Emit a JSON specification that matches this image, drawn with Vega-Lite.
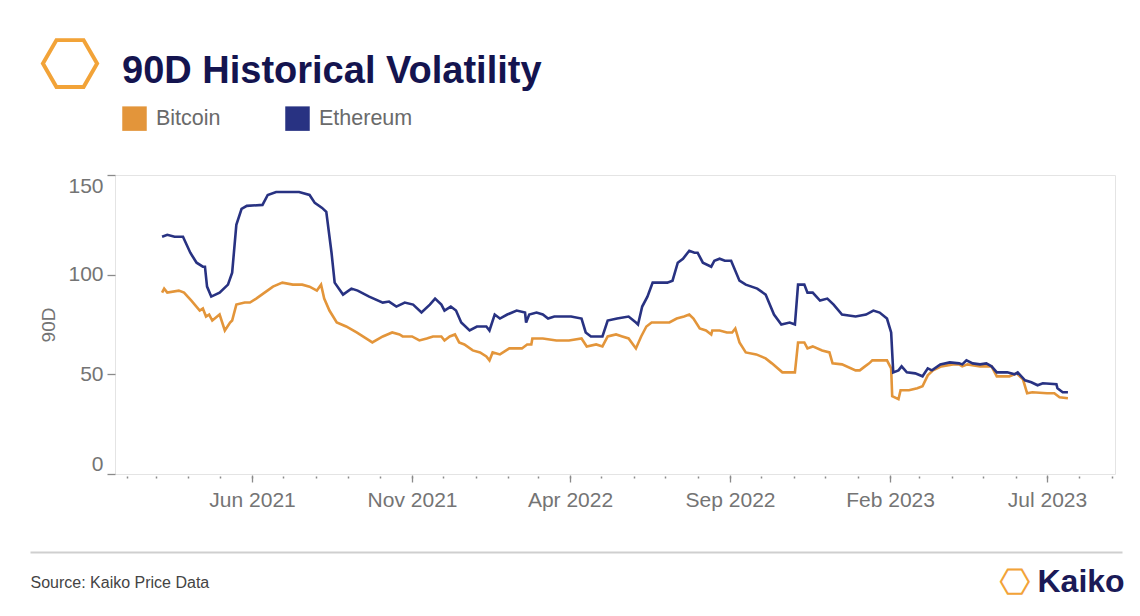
{
  "$schema": "https://vega.github.io/schema/vega-lite/v6.json",
  "width": 1000,
  "height": 299,
  "autosize": {"type": "none"},
  "padding": {"left": 115, "top": 175, "right": 25, "bottom": 142},
  "background": "white",
  "config": {
    "font": "Liberation Sans",
    "view": {"stroke": "#e4e4e4", "strokeWidth": 1}
  },
  "title": {
    "text": "90D Historical Volatility",
    "anchor": "start",
    "frame": "group",
    "fontSize": 38,
    "fontWeight": "bold",
    "color": "#14144f",
    "font": "Liberation Sans",
    "dx": 7,
    "dy": 73,
    "offset": 14
  },
  "data": {
    "values": [
      {"date": "2021-03-07", "series": "Ethereum", "value": 119},
      {"date": "2021-03-12", "series": "Ethereum", "value": 120},
      {"date": "2021-03-19", "series": "Ethereum", "value": 119},
      {"date": "2021-03-27", "series": "Ethereum", "value": 119},
      {"date": "2021-04-03", "series": "Ethereum", "value": 111},
      {"date": "2021-04-09", "series": "Ethereum", "value": 106},
      {"date": "2021-04-15", "series": "Ethereum", "value": 104},
      {"date": "2021-04-17", "series": "Ethereum", "value": 104},
      {"date": "2021-04-19", "series": "Ethereum", "value": 94},
      {"date": "2021-04-23", "series": "Ethereum", "value": 89},
      {"date": "2021-05-01", "series": "Ethereum", "value": 91},
      {"date": "2021-05-09", "series": "Ethereum", "value": 95},
      {"date": "2021-05-13", "series": "Ethereum", "value": 101},
      {"date": "2021-05-17", "series": "Ethereum", "value": 125},
      {"date": "2021-05-22", "series": "Ethereum", "value": 133},
      {"date": "2021-05-27", "series": "Ethereum", "value": 134.5},
      {"date": "2021-06-11", "series": "Ethereum", "value": 135},
      {"date": "2021-06-16", "series": "Ethereum", "value": 140},
      {"date": "2021-06-24", "series": "Ethereum", "value": 141.5},
      {"date": "2021-07-04", "series": "Ethereum", "value": 141.5},
      {"date": "2021-07-16", "series": "Ethereum", "value": 141.5},
      {"date": "2021-07-26", "series": "Ethereum", "value": 140},
      {"date": "2021-07-31", "series": "Ethereum", "value": 136},
      {"date": "2021-08-07", "series": "Ethereum", "value": 133.5},
      {"date": "2021-08-11", "series": "Ethereum", "value": 131.5},
      {"date": "2021-08-16", "series": "Ethereum", "value": 111},
      {"date": "2021-08-19", "series": "Ethereum", "value": 96},
      {"date": "2021-08-27", "series": "Ethereum", "value": 90},
      {"date": "2021-09-04", "series": "Ethereum", "value": 93},
      {"date": "2021-09-10", "series": "Ethereum", "value": 92},
      {"date": "2021-09-21", "series": "Ethereum", "value": 89},
      {"date": "2021-10-04", "series": "Ethereum", "value": 86},
      {"date": "2021-10-10", "series": "Ethereum", "value": 86.5},
      {"date": "2021-10-17", "series": "Ethereum", "value": 84},
      {"date": "2021-10-25", "series": "Ethereum", "value": 86},
      {"date": "2021-11-02", "series": "Ethereum", "value": 85},
      {"date": "2021-11-10", "series": "Ethereum", "value": 81},
      {"date": "2021-11-18", "series": "Ethereum", "value": 85},
      {"date": "2021-11-23", "series": "Ethereum", "value": 88},
      {"date": "2021-11-29", "series": "Ethereum", "value": 85},
      {"date": "2021-12-02", "series": "Ethereum", "value": 82},
      {"date": "2021-12-08", "series": "Ethereum", "value": 84},
      {"date": "2021-12-13", "series": "Ethereum", "value": 82},
      {"date": "2021-12-18", "series": "Ethereum", "value": 76},
      {"date": "2021-12-26", "series": "Ethereum", "value": 72},
      {"date": "2022-01-02", "series": "Ethereum", "value": 74},
      {"date": "2022-01-11", "series": "Ethereum", "value": 74},
      {"date": "2022-01-14", "series": "Ethereum", "value": 72},
      {"date": "2022-01-19", "series": "Ethereum", "value": 80},
      {"date": "2022-01-24", "series": "Ethereum", "value": 78},
      {"date": "2022-01-31", "series": "Ethereum", "value": 80},
      {"date": "2022-02-09", "series": "Ethereum", "value": 82},
      {"date": "2022-02-17", "series": "Ethereum", "value": 81},
      {"date": "2022-02-18", "series": "Ethereum", "value": 76},
      {"date": "2022-02-21", "series": "Ethereum", "value": 80},
      {"date": "2022-02-28", "series": "Ethereum", "value": 81},
      {"date": "2022-03-06", "series": "Ethereum", "value": 80},
      {"date": "2022-03-11", "series": "Ethereum", "value": 78},
      {"date": "2022-03-17", "series": "Ethereum", "value": 79},
      {"date": "2022-03-25", "series": "Ethereum", "value": 79},
      {"date": "2022-04-02", "series": "Ethereum", "value": 79},
      {"date": "2022-04-12", "series": "Ethereum", "value": 78},
      {"date": "2022-04-16", "series": "Ethereum", "value": 71},
      {"date": "2022-04-21", "series": "Ethereum", "value": 69},
      {"date": "2022-05-02", "series": "Ethereum", "value": 69},
      {"date": "2022-05-07", "series": "Ethereum", "value": 77},
      {"date": "2022-05-16", "series": "Ethereum", "value": 78},
      {"date": "2022-05-27", "series": "Ethereum", "value": 79},
      {"date": "2022-06-03", "series": "Ethereum", "value": 76},
      {"date": "2022-06-05", "series": "Ethereum", "value": 75},
      {"date": "2022-06-09", "series": "Ethereum", "value": 84},
      {"date": "2022-06-14", "series": "Ethereum", "value": 89},
      {"date": "2022-06-19", "series": "Ethereum", "value": 96},
      {"date": "2022-06-27", "series": "Ethereum", "value": 96},
      {"date": "2022-07-03", "series": "Ethereum", "value": 96},
      {"date": "2022-07-08", "series": "Ethereum", "value": 97},
      {"date": "2022-07-13", "series": "Ethereum", "value": 106},
      {"date": "2022-07-18", "series": "Ethereum", "value": 108},
      {"date": "2022-07-24", "series": "Ethereum", "value": 112},
      {"date": "2022-07-29", "series": "Ethereum", "value": 111},
      {"date": "2022-08-01", "series": "Ethereum", "value": 111},
      {"date": "2022-08-06", "series": "Ethereum", "value": 106},
      {"date": "2022-08-14", "series": "Ethereum", "value": 104},
      {"date": "2022-08-17", "series": "Ethereum", "value": 107},
      {"date": "2022-08-22", "series": "Ethereum", "value": 108},
      {"date": "2022-08-27", "series": "Ethereum", "value": 107},
      {"date": "2022-09-02", "series": "Ethereum", "value": 107},
      {"date": "2022-09-10", "series": "Ethereum", "value": 97},
      {"date": "2022-09-16", "series": "Ethereum", "value": 95},
      {"date": "2022-09-27", "series": "Ethereum", "value": 93},
      {"date": "2022-10-05", "series": "Ethereum", "value": 90},
      {"date": "2022-10-13", "series": "Ethereum", "value": 80},
      {"date": "2022-10-20", "series": "Ethereum", "value": 75},
      {"date": "2022-10-28", "series": "Ethereum", "value": 76},
      {"date": "2022-11-02", "series": "Ethereum", "value": 75},
      {"date": "2022-11-05", "series": "Ethereum", "value": 95},
      {"date": "2022-11-11", "series": "Ethereum", "value": 95},
      {"date": "2022-11-14", "series": "Ethereum", "value": 91},
      {"date": "2022-11-19", "series": "Ethereum", "value": 91},
      {"date": "2022-11-26", "series": "Ethereum", "value": 87},
      {"date": "2022-12-03", "series": "Ethereum", "value": 88},
      {"date": "2022-12-09", "series": "Ethereum", "value": 85},
      {"date": "2022-12-17", "series": "Ethereum", "value": 80},
      {"date": "2022-12-30", "series": "Ethereum", "value": 79},
      {"date": "2023-01-09", "series": "Ethereum", "value": 80},
      {"date": "2023-01-16", "series": "Ethereum", "value": 82},
      {"date": "2023-01-22", "series": "Ethereum", "value": 81},
      {"date": "2023-01-29", "series": "Ethereum", "value": 78},
      {"date": "2023-02-02", "series": "Ethereum", "value": 71},
      {"date": "2023-02-04", "series": "Ethereum", "value": 51},
      {"date": "2023-02-09", "series": "Ethereum", "value": 52},
      {"date": "2023-02-12", "series": "Ethereum", "value": 54},
      {"date": "2023-02-17", "series": "Ethereum", "value": 51},
      {"date": "2023-02-25", "series": "Ethereum", "value": 50.5},
      {"date": "2023-03-04", "series": "Ethereum", "value": 49},
      {"date": "2023-03-09", "series": "Ethereum", "value": 53},
      {"date": "2023-03-13", "series": "Ethereum", "value": 52},
      {"date": "2023-03-21", "series": "Ethereum", "value": 55},
      {"date": "2023-03-30", "series": "Ethereum", "value": 56},
      {"date": "2023-04-08", "series": "Ethereum", "value": 55.5},
      {"date": "2023-04-11", "series": "Ethereum", "value": 55},
      {"date": "2023-04-15", "series": "Ethereum", "value": 57},
      {"date": "2023-04-21", "series": "Ethereum", "value": 55.5},
      {"date": "2023-04-28", "series": "Ethereum", "value": 55},
      {"date": "2023-05-04", "series": "Ethereum", "value": 55.5},
      {"date": "2023-05-09", "series": "Ethereum", "value": 54},
      {"date": "2023-05-14", "series": "Ethereum", "value": 51},
      {"date": "2023-05-24", "series": "Ethereum", "value": 51},
      {"date": "2023-05-31", "series": "Ethereum", "value": 50},
      {"date": "2023-06-03", "series": "Ethereum", "value": 51},
      {"date": "2023-06-10", "series": "Ethereum", "value": 47},
      {"date": "2023-06-16", "series": "Ethereum", "value": 46},
      {"date": "2023-06-22", "series": "Ethereum", "value": 44.5},
      {"date": "2023-06-27", "series": "Ethereum", "value": 45.5},
      {"date": "2023-07-10", "series": "Ethereum", "value": 45},
      {"date": "2023-07-11", "series": "Ethereum", "value": 43},
      {"date": "2023-07-16", "series": "Ethereum", "value": 41},
      {"date": "2023-07-21", "series": "Ethereum", "value": 41},
      {"date": "2021-03-07", "series": "Bitcoin", "value": 91},
      {"date": "2021-03-09", "series": "Bitcoin", "value": 93},
      {"date": "2021-03-12", "series": "Bitcoin", "value": 91},
      {"date": "2021-03-23", "series": "Bitcoin", "value": 92},
      {"date": "2021-03-28", "series": "Bitcoin", "value": 91},
      {"date": "2021-04-04", "series": "Bitcoin", "value": 87},
      {"date": "2021-04-12", "series": "Bitcoin", "value": 82},
      {"date": "2021-04-15", "series": "Bitcoin", "value": 83},
      {"date": "2021-04-18", "series": "Bitcoin", "value": 79},
      {"date": "2021-04-21", "series": "Bitcoin", "value": 80},
      {"date": "2021-04-24", "series": "Bitcoin", "value": 77},
      {"date": "2021-05-01", "series": "Bitcoin", "value": 80},
      {"date": "2021-05-06", "series": "Bitcoin", "value": 72},
      {"date": "2021-05-11", "series": "Bitcoin", "value": 76},
      {"date": "2021-05-13", "series": "Bitcoin", "value": 77},
      {"date": "2021-05-17", "series": "Bitcoin", "value": 85},
      {"date": "2021-05-25", "series": "Bitcoin", "value": 86},
      {"date": "2021-05-30", "series": "Bitcoin", "value": 86},
      {"date": "2021-06-05", "series": "Bitcoin", "value": 88},
      {"date": "2021-06-13", "series": "Bitcoin", "value": 91},
      {"date": "2021-06-21", "series": "Bitcoin", "value": 94},
      {"date": "2021-06-30", "series": "Bitcoin", "value": 96},
      {"date": "2021-07-10", "series": "Bitcoin", "value": 95},
      {"date": "2021-07-19", "series": "Bitcoin", "value": 95},
      {"date": "2021-07-26", "series": "Bitcoin", "value": 94},
      {"date": "2021-08-02", "series": "Bitcoin", "value": 92},
      {"date": "2021-08-06", "series": "Bitcoin", "value": 95},
      {"date": "2021-08-09", "series": "Bitcoin", "value": 88},
      {"date": "2021-08-14", "series": "Bitcoin", "value": 82},
      {"date": "2021-08-21", "series": "Bitcoin", "value": 76},
      {"date": "2021-08-30", "series": "Bitcoin", "value": 74},
      {"date": "2021-09-09", "series": "Bitcoin", "value": 71},
      {"date": "2021-09-18", "series": "Bitcoin", "value": 68},
      {"date": "2021-09-24", "series": "Bitcoin", "value": 66},
      {"date": "2021-10-04", "series": "Bitcoin", "value": 69},
      {"date": "2021-10-13", "series": "Bitcoin", "value": 71},
      {"date": "2021-10-20", "series": "Bitcoin", "value": 70},
      {"date": "2021-10-23", "series": "Bitcoin", "value": 69},
      {"date": "2021-11-01", "series": "Bitcoin", "value": 69},
      {"date": "2021-11-08", "series": "Bitcoin", "value": 67},
      {"date": "2021-11-15", "series": "Bitcoin", "value": 68},
      {"date": "2021-11-21", "series": "Bitcoin", "value": 69},
      {"date": "2021-11-29", "series": "Bitcoin", "value": 69},
      {"date": "2021-12-02", "series": "Bitcoin", "value": 67},
      {"date": "2021-12-07", "series": "Bitcoin", "value": 69},
      {"date": "2021-12-12", "series": "Bitcoin", "value": 70},
      {"date": "2021-12-16", "series": "Bitcoin", "value": 66},
      {"date": "2021-12-21", "series": "Bitcoin", "value": 65},
      {"date": "2021-12-29", "series": "Bitcoin", "value": 62},
      {"date": "2022-01-05", "series": "Bitcoin", "value": 61},
      {"date": "2022-01-11", "series": "Bitcoin", "value": 59},
      {"date": "2022-01-14", "series": "Bitcoin", "value": 57},
      {"date": "2022-01-17", "series": "Bitcoin", "value": 61},
      {"date": "2022-01-24", "series": "Bitcoin", "value": 60},
      {"date": "2022-02-02", "series": "Bitcoin", "value": 63},
      {"date": "2022-02-14", "series": "Bitcoin", "value": 63},
      {"date": "2022-02-19", "series": "Bitcoin", "value": 65},
      {"date": "2022-02-23", "series": "Bitcoin", "value": 65},
      {"date": "2022-02-24", "series": "Bitcoin", "value": 68},
      {"date": "2022-03-06", "series": "Bitcoin", "value": 68},
      {"date": "2022-03-19", "series": "Bitcoin", "value": 67},
      {"date": "2022-03-31", "series": "Bitcoin", "value": 67},
      {"date": "2022-04-12", "series": "Bitcoin", "value": 68},
      {"date": "2022-04-17", "series": "Bitcoin", "value": 64},
      {"date": "2022-04-26", "series": "Bitcoin", "value": 65},
      {"date": "2022-05-02", "series": "Bitcoin", "value": 64},
      {"date": "2022-05-07", "series": "Bitcoin", "value": 69},
      {"date": "2022-05-15", "series": "Bitcoin", "value": 70},
      {"date": "2022-05-21", "series": "Bitcoin", "value": 69},
      {"date": "2022-05-27", "series": "Bitcoin", "value": 68},
      {"date": "2022-06-03", "series": "Bitcoin", "value": 63},
      {"date": "2022-06-08", "series": "Bitcoin", "value": 69},
      {"date": "2022-06-13", "series": "Bitcoin", "value": 74},
      {"date": "2022-06-18", "series": "Bitcoin", "value": 76},
      {"date": "2022-06-28", "series": "Bitcoin", "value": 76},
      {"date": "2022-07-05", "series": "Bitcoin", "value": 76},
      {"date": "2022-07-12", "series": "Bitcoin", "value": 78},
      {"date": "2022-07-19", "series": "Bitcoin", "value": 79},
      {"date": "2022-07-24", "series": "Bitcoin", "value": 80},
      {"date": "2022-07-28", "series": "Bitcoin", "value": 78},
      {"date": "2022-08-03", "series": "Bitcoin", "value": 73},
      {"date": "2022-08-09", "series": "Bitcoin", "value": 72},
      {"date": "2022-08-14", "series": "Bitcoin", "value": 70},
      {"date": "2022-08-15", "series": "Bitcoin", "value": 72},
      {"date": "2022-08-22", "series": "Bitcoin", "value": 72},
      {"date": "2022-08-29", "series": "Bitcoin", "value": 71},
      {"date": "2022-09-03", "series": "Bitcoin", "value": 71},
      {"date": "2022-09-06", "series": "Bitcoin", "value": 73},
      {"date": "2022-09-10", "series": "Bitcoin", "value": 66},
      {"date": "2022-09-16", "series": "Bitcoin", "value": 61},
      {"date": "2022-09-26", "series": "Bitcoin", "value": 60},
      {"date": "2022-10-05", "series": "Bitcoin", "value": 58},
      {"date": "2022-10-11", "series": "Bitcoin", "value": 55.5},
      {"date": "2022-10-21", "series": "Bitcoin", "value": 51},
      {"date": "2022-11-02", "series": "Bitcoin", "value": 51},
      {"date": "2022-11-05", "series": "Bitcoin", "value": 66},
      {"date": "2022-11-11", "series": "Bitcoin", "value": 66},
      {"date": "2022-11-14", "series": "Bitcoin", "value": 63},
      {"date": "2022-11-19", "series": "Bitcoin", "value": 64},
      {"date": "2022-11-28", "series": "Bitcoin", "value": 62},
      {"date": "2022-12-05", "series": "Bitcoin", "value": 61},
      {"date": "2022-12-08", "series": "Bitcoin", "value": 55.5},
      {"date": "2022-12-17", "series": "Bitcoin", "value": 55},
      {"date": "2022-12-30", "series": "Bitcoin", "value": 52},
      {"date": "2023-01-03", "series": "Bitcoin", "value": 52},
      {"date": "2023-01-08", "series": "Bitcoin", "value": 54},
      {"date": "2023-01-12", "series": "Bitcoin", "value": 55.5},
      {"date": "2023-01-15", "series": "Bitcoin", "value": 57},
      {"date": "2023-01-29", "series": "Bitcoin", "value": 57},
      {"date": "2023-02-02", "series": "Bitcoin", "value": 53},
      {"date": "2023-02-03", "series": "Bitcoin", "value": 39},
      {"date": "2023-02-09", "series": "Bitcoin", "value": 37.5},
      {"date": "2023-02-11", "series": "Bitcoin", "value": 42},
      {"date": "2023-02-19", "series": "Bitcoin", "value": 42},
      {"date": "2023-02-27", "series": "Bitcoin", "value": 43},
      {"date": "2023-03-04", "series": "Bitcoin", "value": 44},
      {"date": "2023-03-09", "series": "Bitcoin", "value": 49.5},
      {"date": "2023-03-14", "series": "Bitcoin", "value": 52},
      {"date": "2023-03-22", "series": "Bitcoin", "value": 54},
      {"date": "2023-04-02", "series": "Bitcoin", "value": 55},
      {"date": "2023-04-08", "series": "Bitcoin", "value": 55},
      {"date": "2023-04-11", "series": "Bitcoin", "value": 54},
      {"date": "2023-04-16", "series": "Bitcoin", "value": 55},
      {"date": "2023-04-28", "series": "Bitcoin", "value": 54},
      {"date": "2023-05-09", "series": "Bitcoin", "value": 54},
      {"date": "2023-05-14", "series": "Bitcoin", "value": 49},
      {"date": "2023-05-26", "series": "Bitcoin", "value": 49},
      {"date": "2023-06-02", "series": "Bitcoin", "value": 50.5},
      {"date": "2023-06-08", "series": "Bitcoin", "value": 47.5},
      {"date": "2023-06-12", "series": "Bitcoin", "value": 40.5},
      {"date": "2023-06-17", "series": "Bitcoin", "value": 41},
      {"date": "2023-07-01", "series": "Bitcoin", "value": 40.5},
      {"date": "2023-07-08", "series": "Bitcoin", "value": 40.5},
      {"date": "2023-07-13", "series": "Bitcoin", "value": 38.5},
      {"date": "2023-07-21", "series": "Bitcoin", "value": 38}
    ]
  },
  "resolve": {"axis": {"x": "independent", "y": "independent"}},
  "layer": [
    {
      "transform": [{"filter": "datum.series === 'Bitcoin'"}],
      "mark": {"type": "line", "strokeWidth": 2.6, "interpolate": "linear"},
      "encoding": {
        "x": {
          "field": "date", "type": "temporal",
          "scale": {"type": "utc", "domain": ["2021-01-21", "2023-09-04"], "nice": false},
          "axis": {
            "orient": "bottom",
            "values": [
              {"year": 2021, "month": 6, "date": 1, "utc": true},
              {"year": 2021, "month": 11, "date": 1, "utc": true},
              {"year": 2022, "month": 4, "date": 1, "utc": true},
              {"year": 2022, "month": 9, "date": 1, "utc": true},
              {"year": 2023, "month": 2, "date": 1, "utc": true},
              {"year": 2023, "month": 7, "date": 1, "utc": true}
            ],
            "format": "%b %Y",
            "labelFontSize": 21,
            "labelColor": "#747474",
            "labelFlush": false,
            "labelPadding": 7,
            "tickSize": 7,
            "tickColor": "#8a8a8a",
            "tickWidth": 1.3,
            "offset": 1,
            "domain": false,
            "grid": false,
            "title": null
          }
        },
        "y": {
          "field": "value", "type": "quantitative",
          "scale": {"domain": [0, 150], "nice": false, "zero": true},
          "axis": {
            "orient": "left",
            "values": [0, 50, 100, 150],
            "tickSize": 8,
            "tickColor": "#8a8a8a",
            "tickWidth": 1.3,
            "labelFontSize": 21,
            "labelColor": "#747474",
            "labelPadding": 4,
            "labelFlush": true,
            "domain": false,
            "grid": false,
            "title": "90D",
            "titleFontSize": 19,
            "titleFontWeight": "normal",
            "titleColor": "#747474",
            "titlePadding": 9
          }
        },
        "color": {
          "field": "series", "type": "nominal",
          "scale": {"domain": ["Bitcoin", "Ethereum"], "range": ["#e3953a", "#283282"]},
          "legend": {
            "orient": "none",
            "legendX": 7,
            "legendY": -69,
            "direction": "horizontal",
            "title": null,
            "symbolType": "square",
            "symbolSize": 600,
            "symbolStrokeWidth": 0,
            "labelFontSize": 21.5,
            "labelColor": "#6a6a6a",
            "labelOffset": 9,
            "columnPadding": 64,
            "encode": {
              "symbols": {
                "update": {
                  "fill": {"scale": "color", "field": "value"},
                  "stroke": {"value": "transparent"},
                  "strokeWidth": {"value": 0}
                }
              }
            }
          }
        }
      }
    },
    {
      "transform": [{"filter": "datum.series === 'Ethereum'"}],
      "mark": {"type": "line", "strokeWidth": 2.6, "interpolate": "linear"},
      "encoding": {
        "x": {
          "field": "date", "type": "temporal",
          "scale": {"type": "utc", "domain": ["2021-01-21", "2023-09-04"], "nice": false},
          "axis": {
            "orient": "bottom",
            "tickCount": {"interval": "month", "step": 1},
            "labels": false,
            "tickSize": 2,
            "tickWidth": 1.5,
            "tickColor": "#8a8a8a",
            "offset": 2,
            "domain": false,
            "grid": false,
            "title": "⬡",
            "titleFont": "DejaVu Sans",
            "titleFontWeight": "bold",
            "titleFontSize": 36,
            "titleColor": "#f2a338",
            "titleAngle": 90,
            "titleX": 898,
            "titleY": 105,
            "titleAlign": "center",
            "titleBaseline": "middle",
            "encode": {
              "title": {
                "update": {
                  "stroke": {"value": "#f2a338"},
                  "strokeWidth": {"value": 7},
                  "strokeJoin": {"value": "miter"}
                }
              }
            }
          }
        },
        "y": {
          "field": "value", "type": "quantitative",
          "scale": {"domain": [0, 150], "nice": false, "zero": true},
          "axis": {
            "orient": "left",
            "domain": false,
            "ticks": false,
            "labels": false,
            "grid": false,
            "title": "⬡",
            "titleFont": "DejaVu Sans",
            "titleFontWeight": "bold",
            "titleFontSize": 70,
            "titleColor": "#f2a338",
            "titleAngle": 90,
            "titleX": -48,
            "titleY": -112,
            "titleAlign": "center",
            "titleBaseline": "middle",
            "encode": {
              "title": {
                "update": {
                  "stroke": {"value": "#f2a338"},
                  "strokeWidth": {"value": 14},
                  "strokeJoin": {"value": "miter"}
                }
              }
            }
          }
        },
        "color": {
          "field": "series", "type": "nominal",
          "scale": {"domain": ["Bitcoin", "Ethereum"], "range": ["#e3953a", "#283282"]}
        }
      }
    },
    {
      "mark": {"type": "point", "opacity": 0},
      "encoding": {
        "x": {
          "field": "date", "type": "temporal",
          "scale": {"type": "utc", "domain": ["2021-01-21", "2023-09-04"], "nice": false},
          "axis": {
            "orient": "bottom",
            "domain": false,
            "ticks": false,
            "labels": false,
            "grid": false,
            "title": "Kaiko",
            "titleX": 922,
            "titleY": 107,
            "titleAlign": "left",
            "titleBaseline": "middle",
            "titleFontSize": 32,
            "titleFontWeight": "bold",
            "titleColor": "#1b1a57"
          }
        },
        "y": {
          "field": "value", "type": "quantitative",
          "scale": {"domain": [0, 150], "nice": false, "zero": true},
          "axis": {
            "orient": "left",
            "offset": 85,
            "values": [0],
            "tickOffset": 78,
            "tickSize": -1092,
            "tickColor": "#cfcfcf",
            "tickWidth": 2,
            "labels": false,
            "domain": false,
            "grid": false,
            "title": "Source: Kaiko Price Data",
            "titleAngle": 0,
            "titleX": 0,
            "titleY": 407,
            "titleAlign": "left",
            "titleBaseline": "middle",
            "titleFontSize": 16,
            "titleFontWeight": "normal",
            "titleColor": "#444444"
          }
        }
      }
    }
  ]
}
